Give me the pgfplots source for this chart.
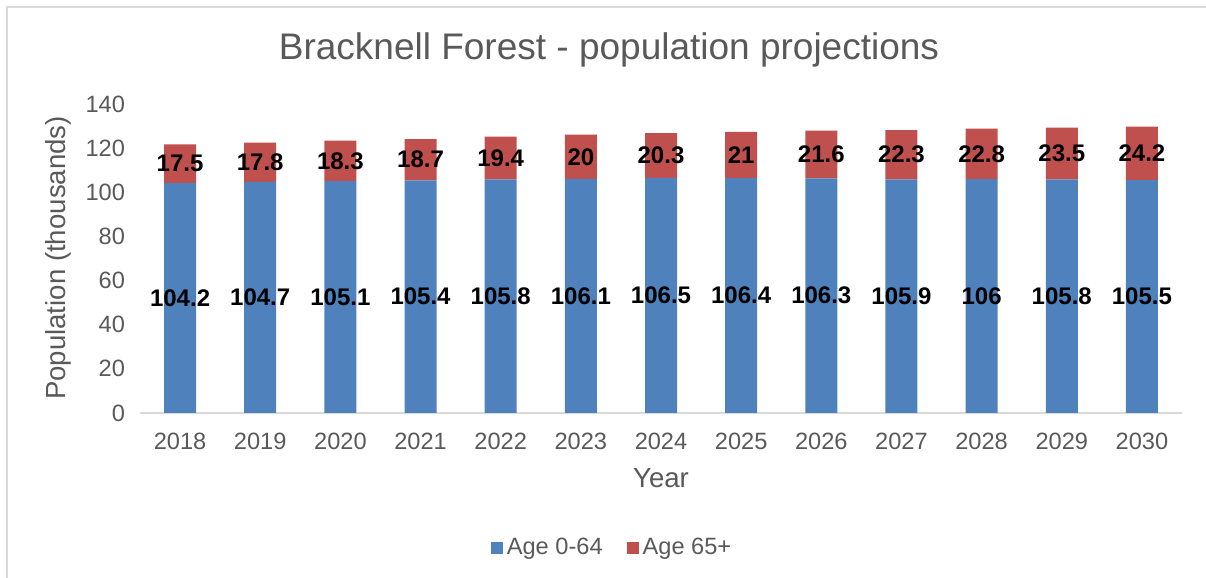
\documentclass[border=0pt]{standalone}
\usepackage{pgfplots}
\pgfplotsset{compat=1.18}
\usepackage{fontspec}
\setmainfont{Liberation Sans}
\definecolor{blueA}{HTML}{4F81BD}
\definecolor{redA}{HTML}{C0504D}
\definecolor{txt}{HTML}{595959}
\definecolor{gridc}{HTML}{D9D9D9}

\begin{document}
\begin{tikzpicture}
\useasboundingbox (0,0) rectangle (603pt,289pt);
% chart frame (left and top edges only are visible)
\draw[gridc, line width=0.7pt] (3.5pt,0) -- (3.5pt,285.5pt) -- (603pt,285.5pt);

\pgfplotsset{
  common/.style={
    at={(70pt,82.5pt)}, anchor=south west,
    scale only axis, width=521pt, height=154.5pt,
    xmin=-0.5, xmax=12.5, ymin=0, ymax=140,
  }
}

% bars
\begin{axis}[common,
  ybar stacked, bar width=16pt,
  axis x line*=bottom, axis y line=none,
  x axis line style={gridc, line width=0.7pt},
  ytick={0,20,...,140},
  ymajorgrids, grid style={gridc, line width=0.7pt},
  xtick={0,...,12},
  xticklabels={2018,2019,2020,2021,2022,2023,2024,2025,2026,2027,2028,2029,2030},
  major tick length=0pt,
  tick label style={font=\fontsize{11.8}{14}\selectfont, text=txt},
  /pgf/number format/assume math mode=true,
  xticklabel style={yshift=-6.5pt},
  legend style={at={(0.454,-0.437)}, anchor=center, draw=none, fill=none,
    legend columns=2, font=\fontsize{11.8}{14}\selectfont, text=txt,
    /tikz/every even column/.append style={column sep=10pt}},
  legend image code/.code={\fill[#1] (0pt,-3pt) rectangle (6pt,3pt);},
]
\addplot[fill=blueA, draw=none] coordinates {
  (0,104.2) (1,104.7) (2,105.1) (3,105.4) (4,105.8) (5,106.1) (6,106.5)
  (7,106.4) (8,106.3) (9,105.9) (10,106) (11,105.8) (12,105.5)};
\addplot[fill=redA, draw=none] coordinates {
  (0,17.5) (1,17.8) (2,18.3) (3,18.7) (4,19.4) (5,20) (6,20.3)
  (7,21) (8,21.6) (9,22.3) (10,22.8) (11,23.5) (12,24.2)};
\legend{Age 0-64, Age 65+}
\end{axis}

% y tick labels (without any axis line)
\begin{axis}[common,
  axis x line=none, axis y line*=left,
  y axis line style={draw=none},
  ytick={0,20,...,140}, xtick=\empty,
  major tick length=0pt,
  tick label style={font=\fontsize{11.8}{14}\selectfont, text=txt},
  /pgf/number format/assume math mode=true,
  yticklabel style={xshift=-4pt},
]
\end{axis}

% data labels, centred in each segment
\begin{axis}[common, hide axis,
  nodes near coords, point meta=explicit symbolic,
  every node near coord/.style={anchor=center,
    font=\bfseries\fontsize{12}{14}\selectfont, text=black},
]
\addplot[only marks, mark=none] coordinates {
  (0,52.1)[104.2] (1,52.35)[104.7] (2,52.55)[105.1] (3,52.7)[105.4]
  (4,52.9)[105.8] (5,53.05)[106.1] (6,53.25)[106.5] (7,53.2)[106.4]
  (8,53.15)[106.3] (9,52.95)[105.9] (10,53)[106] (11,52.9)[105.8]
  (12,52.75)[105.5]};
\addplot[only marks, mark=none] coordinates {
  (0,112.95)[17.5] (1,113.6)[17.8] (2,114.25)[18.3] (3,114.75)[18.7]
  (4,115.5)[19.4] (5,116.1)[20] (6,116.65)[20.3] (7,116.9)[21]
  (8,117.1)[21.6] (9,117.05)[22.3] (10,117.4)[22.8] (11,117.55)[23.5]
  (12,117.6)[24.2]};
\end{axis}

\node[text=txt, font=\fontsize{18.5}{22}\selectfont] at (304.5pt,264pt)
  {Bracknell Forest - population projections};
\node[text=txt, font=\fontsize{13.8}{16}\selectfont] at (330.5pt,50pt) {Year};
\node[text=txt, font=\fontsize{13.8}{16}\selectfont, rotate=90] at (29pt,160pt)
  {Population (thousands)};
\end{tikzpicture}
\end{document}
